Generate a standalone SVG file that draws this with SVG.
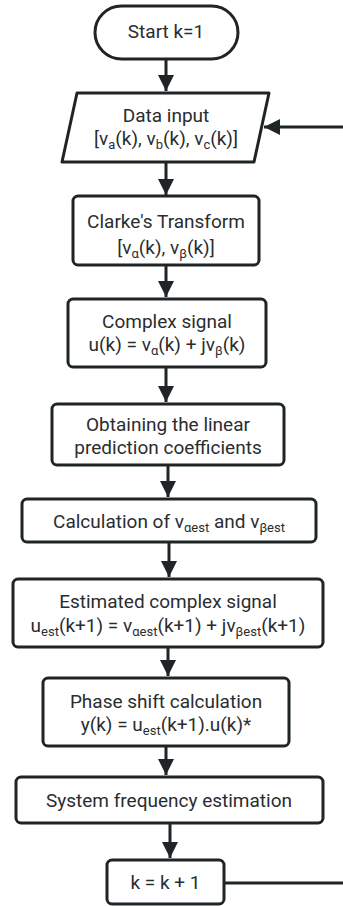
<svg xmlns="http://www.w3.org/2000/svg" width="343" height="906" viewBox="0 0 343 906">
<defs>
<style>
.n{fill:#fff;stroke:#1f2427;stroke-width:3;stroke-linejoin:round}
.t{font-family:Roboto,"Noto Sans",sans-serif;font-size:19px;fill:#2a2d30;text-anchor:middle}
.s{font-size:13px}
.c{stroke:#1f2427;stroke-width:3;fill:none}
</style>
<marker id="ah" markerUnits="userSpaceOnUse" markerWidth="16" markerHeight="18" viewBox="0 0 16 18" refX="16" refY="8" orient="auto">
<path d="M0,0 L16,8 L0,16 Z" fill="#1f2427"/>
</marker>
</defs>
<g id="connectors">
<line class="c" x1="166" y1="59" x2="166" y2="91" marker-end="url(#ah)"/>
<line class="c" x1="166" y1="162" x2="166" y2="195" marker-end="url(#ah)"/>
<line class="c" x1="166" y1="265" x2="166" y2="297" marker-end="url(#ah)"/>
<line class="c" x1="166" y1="367" x2="166" y2="402" marker-end="url(#ah)"/>
<line class="c" x1="168" y1="465" x2="168" y2="497" marker-end="url(#ah)"/>
<line class="c" x1="169" y1="542" x2="169" y2="577" marker-end="url(#ah)"/>
<line class="c" x1="168" y1="647" x2="168" y2="676" marker-end="url(#ah)"/>
<line class="c" x1="166" y1="746" x2="166" y2="775" marker-end="url(#ah)"/>
<line class="c" x1="170" y1="823" x2="170" y2="858" marker-end="url(#ah)"/>
<line class="c" x1="224" y1="883" x2="343" y2="883"/>
<line class="c" x1="343" y1="127" x2="264" y2="127" marker-end="url(#ah)"/>
</g>
<g id="start">
<rect class="n" x="95" y="6" width="143" height="53" rx="26.5"/>
<text class="t" x="166" y="38">Start k=1</text>
</g>
<g id="data-input">
<path class="n" d="M77,93 L269,93 L254,162 L62,162 Z"/>
<text class="t" x="166" y="122">Data input</text>
<text class="t" x="166" y="145">[v<tspan class="s" dy="4">a</tspan><tspan dy="-4">(k), v</tspan><tspan class="s" dy="4">b</tspan><tspan dy="-4">(k), v</tspan><tspan class="s" dy="4">c</tspan><tspan dy="-4">(k)]</tspan></text>
</g>
<g id="clarke">
<rect class="n" x="73" y="196" width="186" height="69" rx="5"/>
<text class="t" x="166" y="228">Clarke's Transform</text>
<text class="t" x="166" y="254">[v<tspan class="s" dy="4">α</tspan><tspan dy="-4">(k), v</tspan><tspan class="s" dy="4">β</tspan><tspan dy="-4">(k)]</tspan></text>
</g>
<g id="complex">
<rect class="n" x="68" y="299" width="198" height="68" rx="5"/>
<text class="t" x="167" y="328">Complex signal</text>
<text class="t" x="167" y="351">u(k) = v<tspan class="s" dy="4">α</tspan><tspan dy="-4">(k) + jv</tspan><tspan class="s" dy="4">β</tspan><tspan dy="-4">(k)</tspan></text>
</g>
<g id="lpc">
<rect class="n" x="52" y="404" width="232" height="61" rx="5"/>
<text class="t" x="168" y="431">Obtaining the linear</text>
<text class="t" x="168" y="454">prediction coefficients</text>
</g>
<g id="calc">
<rect class="n" x="22" y="499" width="294" height="43" rx="5"/>
<text class="t" x="169" y="528">Calculation of  v<tspan class="s" dy="4">αest</tspan><tspan dy="-4"> and v</tspan><tspan class="s" dy="4">βest</tspan></text>
</g>
<g id="estimated">
<rect class="n" x="13" y="579" width="310" height="68" rx="5"/>
<text class="t" x="168" y="608">Estimated complex signal</text>
<text class="t" x="168" y="632">u<tspan class="s" dy="4">est</tspan><tspan dy="-4">(k+1) = v</tspan><tspan class="s" dy="4">αest</tspan><tspan dy="-4">(k+1) + jv</tspan><tspan class="s" dy="4">βest</tspan><tspan dy="-4">(k+1)</tspan></text>
</g>
<g id="phase">
<rect class="n" x="43" y="678" width="246" height="68" rx="5"/>
<text class="t" x="166" y="708">Phase shift calculation</text>
<text class="t" x="166" y="731">y(k) = u<tspan class="s" dy="4">est</tspan><tspan dy="-4">(k+1).u(k)*</tspan></text>
</g>
<g id="freq">
<rect class="n" x="16" y="777" width="307" height="46" rx="5"/>
<text class="t" x="169" y="807">System frequency estimation</text>
</g>
<g id="increment">
<rect class="n" x="107" y="860" width="117" height="44" rx="5"/>
<text class="t" x="165.5" y="889">k = k + 1</text>
</g>
</svg>
